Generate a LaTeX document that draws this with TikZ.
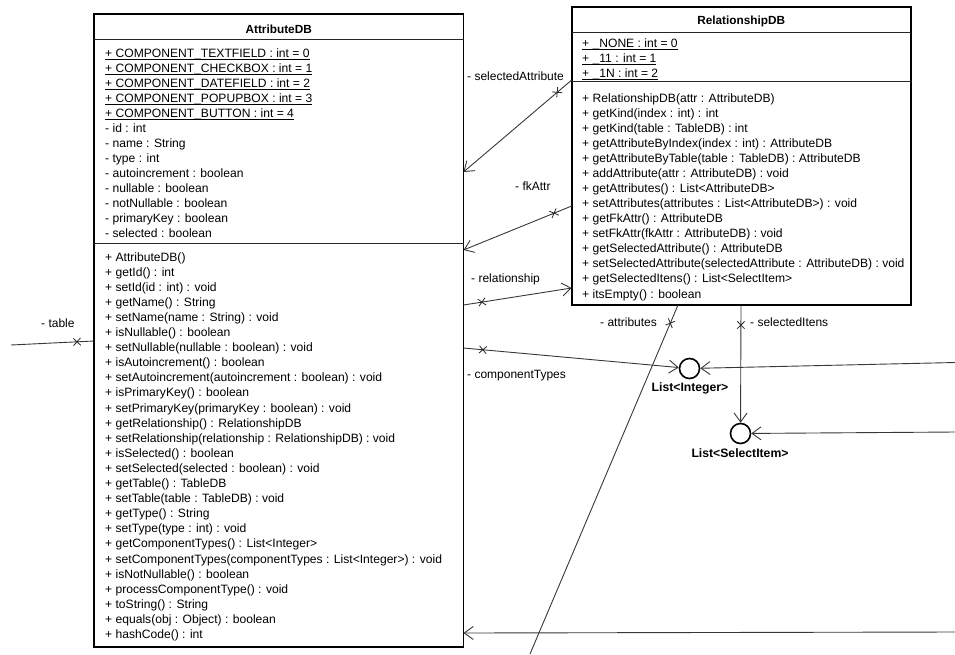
\documentclass[tikz,border=0pt]{standalone}
\usepackage{fontspec}
\setmainfont{Liberation Sans}
\usetikzlibrary{arrows.meta,shapes.misc}
\newcommand\myul[1]{\setbox0\hbox{#1}\rlap{\rule[-2.4pt]{\wd0}{0.8pt}}\box0}
\begin{document}
\begin{tikzpicture}[x=1pt,y=-1pt,
  box/.style={draw=black, line width=1.8pt, anchor=north west, inner sep=0pt, outer sep=0pt},
  sepl/.style={draw=black!85, line width=0.9pt},
  txt/.style={anchor=base west, inner sep=0pt, font=\fontsize{12.1}{14}\selectfont},
  ttl/.style={anchor=base, inner sep=0pt, font=\fontsize{11.8}{14}\selectfont\bfseries},
  lbl/.style={anchor=base west, inner sep=0pt, font=\fontsize{12}{14}\selectfont},
  conn/.style={draw=black!78, line width=0.9pt},
  nav/.style={-{Straight Barb[length=9pt,width=13pt,line width=0.9pt]}},
  xmk/.style={cross out, draw=black!85, line width=0.8pt, minimum size=6.5pt, inner sep=0pt},
  iface/.style={circle, draw=black, line width=1.6pt, minimum size=20pt, inner sep=0pt, fill=white}
]
\useasboundingbox (0,0) rectangle (955,654);

% ---------------- AttributeDB ----------------
\node[box, minimum width=369.5pt, minimum height=633pt] (attr) at (94,14) {};
\draw[sepl] (94,39.3) -- (463.5,39.3);
\draw[sepl] (94,243.3) -- (463.5,243.3);
\node[ttl] (attrT) at (278.7,33) {AttributeDB};
\foreach \t [count=\i from 0] in {
  {+ COMPONENT\_TEXTFIELD : int = 0},
  {+ COMPONENT\_CHECKBOX : int = 1},
  {+ COMPONENT\_DATEFIELD : int = 2},
  {+ COMPONENT\_POPUPBOX : int = 3},
  {+ COMPONENT\_BUTTON : int = 4}}
  \node[txt] (as\i) at (105,57+15*\i) {\myul{\t}};
\foreach \t [count=\i from 5] in {
  {- id : int},
  {- name : String},
  {- type : int},
  {- autoincrement : boolean},
  {- nullable : boolean},
  {- notNullable : boolean},
  {- primaryKey : boolean},
  {- selected : boolean}}
  \node[txt] (aa\i) at (105,57+15*\i) {\t};
\foreach \t [count=\i from 0] in {
  {+ AttributeDB()},
  {+ getId() : int},
  {+ setId(id : int) : void},
  {+ getName() : String},
  {+ setName(name : String) : void},
  {+ isNullable() : boolean},
  {+ setNullable(nullable : boolean) : void},
  {+ isAutoincrement() : boolean},
  {+ setAutoincrement(autoincrement : boolean) : void},
  {+ isPrimaryKey() : boolean},
  {+ setPrimaryKey(primaryKey : boolean) : void},
  {+ getRelationship() : RelationshipDB},
  {+ setRelationship(relationship : RelationshipDB) : void},
  {+ isSelected() : boolean},
  {+ setSelected(selected : boolean) : void},
  {+ getTable() : TableDB},
  {+ setTable(table : TableDB) : void},
  {+ getType() : String},
  {+ setType(type : int) : void},
  {+ getComponentTypes() : List<Integer>},
  {+ setComponentTypes(componentTypes : List<Integer>) : void},
  {+ isNotNullable() : boolean},
  {+ processComponentType() : void},
  {+ toString() : String},
  {+ equals(obj : Object) : boolean},
  {+ hashCode() : int}}
  \node[txt] (am\i) at (105,261+15.1*\i) {\t};

% ---------------- RelationshipDB ----------------
\node[box, minimum width=339pt, minimum height=297.7pt] (rel) at (571.7,7.3) {};
\draw[sepl] (571.7,32.3) -- (910.7,32.3);
\draw[sepl] (571.7,81) -- (910.7,81);
\node[ttl] (relT) at (741.2,24) {RelationshipDB};
\foreach \t [count=\i from 0] in {
  {+ \_NONE : int = 0},
  {+ \_11 : int = 1},
  {+ \_1N : int = 2}}
  \node[txt] (rs\i) at (582,47+15*\i) {\myul{\t}};
\foreach \t [count=\i from 0] in {
  {+ RelationshipDB(attr : AttributeDB)},
  {+ getKind(index : int) : int},
  {+ getKind(table : TableDB) : int},
  {+ getAttributeByIndex(index : int) : AttributeDB},
  {+ getAttributeByTable(table : TableDB) : AttributeDB},
  {+ addAttribute(attr : AttributeDB) : void},
  {+ getAttributes() : List<AttributeDB>},
  {+ setAttributes(attributes : List<AttributeDB>) : void},
  {+ getFkAttr() : AttributeDB},
  {+ setFkAttr(fkAttr : AttributeDB) : void},
  {+ getSelectedAttribute() : AttributeDB},
  {+ setSelectedAttribute(selectedAttribute : AttributeDB) : void},
  {+ getSelectedItens() : List<SelectItem>},
  {+ itsEmpty() : boolean}}
  \node[txt] (rm\i) at (582,102+15.08*\i) {\t};

% ---------------- interfaces ----------------
\node[iface] (lint) at (689.5,368.5) {};
\node[ttl, font=\fontsize{12.2}{14}\selectfont\bfseries] (lintL) at (690,391) {List<Integer>};
\node[iface] (lsel) at (740.5,433.5) {};
\node[ttl, font=\fontsize{12.2}{14}\selectfont\bfseries] (lselL) at (740,457) {List<SelectItem>};

% ---------------- connector end points ----------------
\coordinate (rSA) at (571.7,80);
\coordinate (aSA) at (463.5,172);
\coordinate (rFK) at (571.7,206);
\coordinate (aFK) at (463.5,250);
\coordinate (aRL) at (463.5,305);
\coordinate (rRL) at (571.7,288);
\coordinate (tblEnd) at (11,345);
\coordinate (aTB) at (94,341);
\coordinate (aCT) at (463.5,348);
\coordinate (rightA) at (955,362.5);
\coordinate (rSI) at (741,305);
\coordinate (rightB) at (955,432);
\coordinate (rAT) at (678,305);
\coordinate (atEnd) at (530,654);
\coordinate (rightC) at (955,632);
\coordinate (aBT) at (463.5,633);

% ---------------- connectors ----------------
\draw[conn, nav] (rSA) -- (aSA) node[xmk, sloped, pos=0.134] (x1) {};
\draw[conn, nav] (rFK) -- (aFK) node[xmk, sloped, pos=0.163] (x2) {};
\draw[conn, nav] (aRL) -- (rRL) node[xmk, sloped, pos=0.17] (x3) {};
\draw[conn] (tblEnd) -- (aTB) node[xmk, sloped, pos=0.795] (x4) {};
\draw[conn, nav] (aCT) -- (lint) node[xmk, sloped, pos=0.09] (x5) {};
\draw[conn, nav] (rightA) -- (lint);
\draw[conn, nav] (rSI) -- (lsel) node[xmk, sloped, pos=0.17] (x7) {};
\draw[conn, nav] (rightB) -- (lsel);
\draw[conn] (rAT) -- (atEnd) node[xmk, sloped, pos=0.052] (x9) {};
\draw[conn, nav] (rightC) -- (aBT);

% ---------------- role labels ----------------
\node[lbl] (lSA) at (467,80) {- selectedAttribute};
\node[lbl] (lFK) at (515,190) {- fkAttr};
\node[lbl] (lRL) at (471,282) {- relationship};
\node[lbl] (lTB) at (41,327) {- table};
\node[lbl] (lCT) at (467,378) {- componentTypes};
\node[lbl] (lAT) at (600,326) {- attributes};
\node[lbl] (lSI) at (750,326) {- selectedItens};
\end{tikzpicture}
\end{document}
